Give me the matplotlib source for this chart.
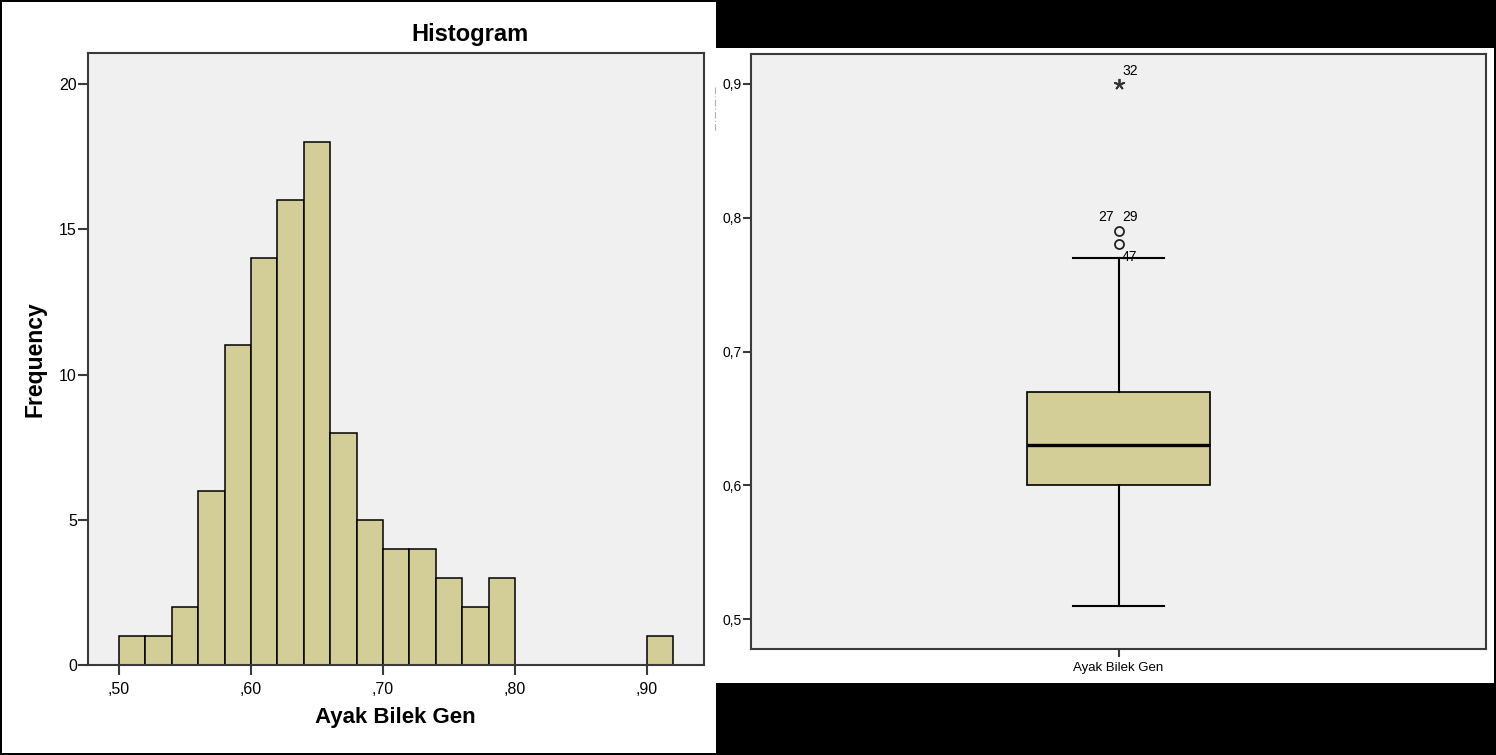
import matplotlib.pyplot as plt
from matplotlib.patches import Rectangle
from matplotlib.lines import Line2D

plt.rcParams['font.family'] = ['Liberation Sans', 'DejaVu Sans']

# histogram data (bin starts, width 0.02)
bin_starts = [0.50, 0.52, 0.54, 0.56, 0.58, 0.60, 0.62, 0.64, 0.66, 0.68,
              0.70, 0.72, 0.74, 0.76, 0.78, 0.90]
counts = [1, 1, 2, 6, 11, 14, 16, 18, 8, 5, 4, 4, 3, 2, 3, 1]
bin_width = 0.02
hist_xticks = [0.50, 0.60, 0.70, 0.80, 0.90]
hist_xlabels = [',50', ',60', ',70', ',80', ',90']
hist_yticks = [0, 5, 10, 15, 20]

# boxplot data
box_q1 = 0.60
box_median = 0.63
box_q3 = 0.67
whisker_lo = 0.51
whisker_hi = 0.77
outlier_vals = [0.79, 0.78]
extreme_vals = [0.90]
box_yticks = [0.5, 0.6, 0.7, 0.8, 0.9]
box_ylabels = ['0,5', '0,6', '0,7', '0,8', '0,9']
var_name = 'Ayak Bilek Gen'

W, H = 1496, 755
bar_color = '#d3ce97'
bg = '#f0f0f0'
spine_c = '#3a3a3a'

fig = plt.figure(figsize=(W / 100, H / 100), dpi=100, facecolor='black')


def fx(px):
    return px / W


def fy(py):
    return 1 - py / H


# white panels behind the axes
fig.patches.append(Rectangle((fx(2), fy(753)), fx(714), 751 / H,
                             transform=fig.transFigure, facecolor='white',
                             edgecolor='none', zorder=-10))
fig.patches.append(Rectangle((fx(716), fy(683)), fx(778), 635 / H,
                             transform=fig.transFigure, facecolor='white',
                             edgecolor='none', zorder=-10))
# faint leftover dash line next to the boxplot axis
fig.add_artist(Line2D([fx(715), fx(715)], [fy(87), fy(130)],
                      transform=fig.transFigure, color='#b0b0b0',
                      linewidth=0.8, linestyle=(0, (6, 2, 1, 2))))

# ---- histogram ----
ax1 = fig.add_axes([fx(88), fy(665), fx(704 - 88), (665 - 53) / H])
ax1.set_facecolor(bg)
ax1.bar(bin_starts, counts, width=bin_width, align='edge', color=bar_color,
        edgecolor='black', linewidth=1.1)
ax1.set_xlim(0.4765, 0.9432)
ax1.set_ylim(0, 21.07)
ax1.set_xticks(hist_xticks)
ax1.set_xticklabels(hist_xlabels)
ax1.set_yticks(hist_yticks)
ax1.tick_params(axis='both', labelsize=11.5, length=7, width=1.5,
                color=spine_c, direction='out')
ax1.tick_params(axis='y', pad=1)
ax1.tick_params(axis='x', pad=5)
for s in ax1.spines.values():
    s.set_color(spine_c)
    s.set_linewidth(1.5)

fig.text(fx(470), fy(35), 'Histogram', ha='center', va='center',
         fontsize=17, fontweight='bold')
fig.text(fx(395), fy(718), var_name, ha='center', va='center',
         fontsize=16, fontweight='bold')
fig.text(fx(35), fy(359), 'Frequency', ha='center', va='center',
         fontsize=16.5, fontweight='bold', rotation=90)

# ---- boxplot ----
ax2 = fig.add_axes([fx(751), fy(649), fx(735), 595 / H])
ax2.set_facecolor(bg)
stats = [{'q1': box_q1, 'med': box_median, 'q3': box_q3,
          'whislo': whisker_lo, 'whishi': whisker_hi, 'fliers': []}]
ax2.bxp(stats, positions=[1], widths=0.25, capwidths=0.124,
        showfliers=False, patch_artist=True,
        boxprops=dict(facecolor=bar_color, edgecolor='black', linewidth=1.2),
        medianprops=dict(color='black', linewidth=2.4),
        whiskerprops=dict(color='black', linewidth=1.5),
        capprops=dict(color='black', linewidth=1.5))
ax2.plot([1] * len(outlier_vals), outlier_vals, 'o', markersize=6.5,
         markerfacecolor='none', markeredgecolor='#222222', markeredgewidth=1.3)
ax2.plot([1] * len(extreme_vals), extreme_vals, marker=(5, 2, 0),
         linestyle='none', markersize=8, markeredgewidth=1.3, color='#333333')

ax2.annotate('32', (1, extreme_vals[0]), xytext=(3, 4),
             textcoords='offset points', fontsize=10, ha='left', va='bottom')
ax2.annotate('27', (1, outlier_vals[0]), xytext=(-3, 5),
             textcoords='offset points', fontsize=10, ha='right', va='bottom')
ax2.annotate('29', (1, outlier_vals[0]), xytext=(3, 5),
             textcoords='offset points', fontsize=10, ha='left', va='bottom')
ax2.annotate('47', (1, outlier_vals[1]), xytext=(2, -9),
             textcoords='offset points', fontsize=10, ha='left', va='center')

ax2.set_xlim(0.5, 1.5)
ax2.set_ylim(0.4776, 0.9224)
ax2.set_xticks([1])
ax2.set_xticklabels([var_name])
ax2.set_yticks(box_yticks)
ax2.set_yticklabels(box_ylabels)
ax2.tick_params(axis='both', labelsize=9.5, length=6, width=1.5,
                color=spine_c, direction='out')
ax2.tick_params(axis='y', labelsize=10, pad=0.5)
ax2.tick_params(axis='x', pad=3.5)
for s in ax2.spines.values():
    s.set_color(spine_c)
    s.set_linewidth(1.5)

fig.savefig('out.png', dpi=100, facecolor='black')
